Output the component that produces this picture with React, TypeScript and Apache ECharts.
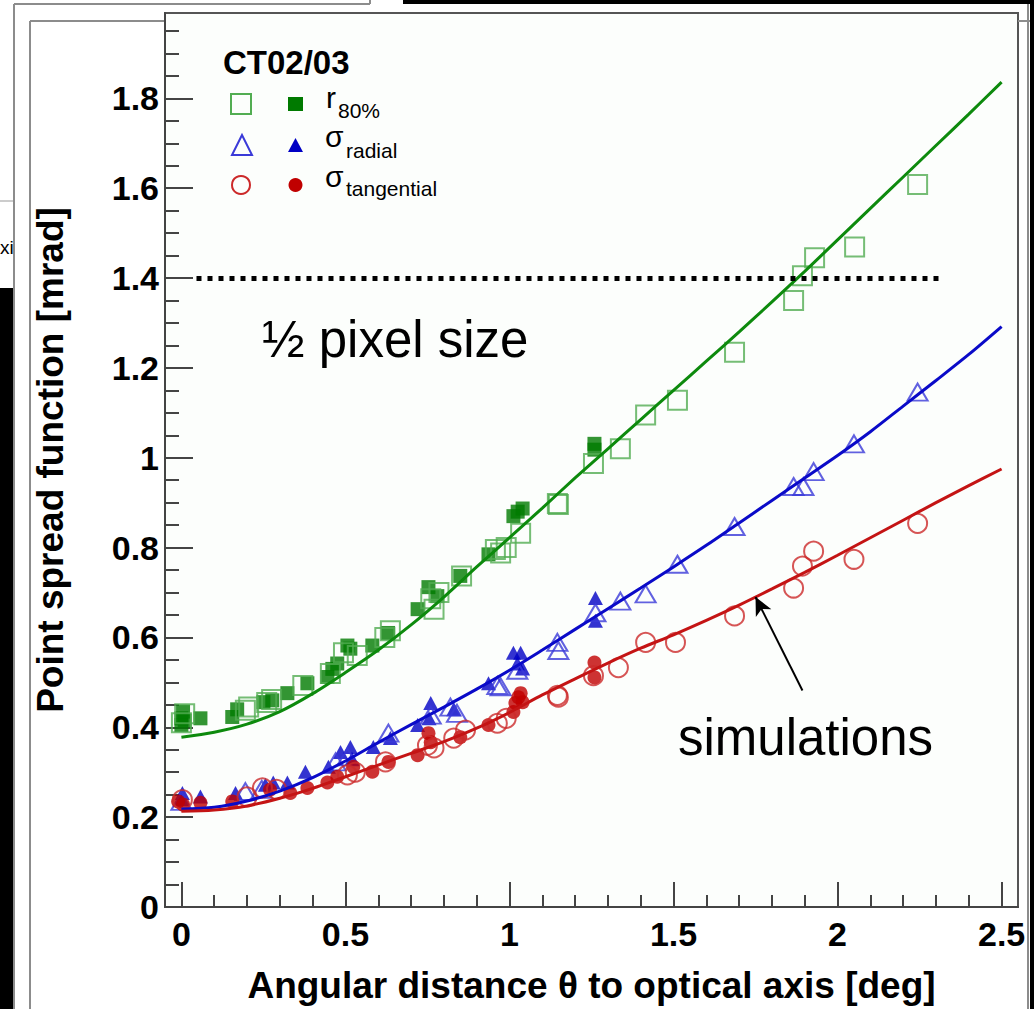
import React, { useEffect, useRef } from "react";
import * as echarts from "echarts";

const FONT = '"Liberation Sans", Arial, Helvetica, sans-serif';

// ---- data ----
const xMajor = [0, 0.5, 1, 1.5, 2, 2.5];
const xMinor = [0.1, 0.2, 0.3, 0.4, 0.6, 0.7, 0.8, 0.9, 1.1, 1.2, 1.3, 1.4, 1.6, 1.7, 1.8, 1.9, 2.1, 2.2, 2.3, 2.4];
const yMajor = [0, 0.2, 0.4, 0.6, 0.8, 1, 1.2, 1.4, 1.6, 1.8];
const yMinor = [0.05, 0.1, 0.15, 0.25, 0.3, 0.35, 0.45, 0.5, 0.55, 0.65, 0.7, 0.75, 0.85, 0.9, 0.95, 1.05, 1.1, 1.15, 1.25, 1.3, 1.35, 1.45, 1.5, 1.55, 1.65, 1.7, 1.75, 1.85, 1.9, 1.95];

const r80Filled = [
  [0.0, 0.405], [0.0, 0.42], [0.005, 0.435], [0.01, 0.415], [0.058, 0.42], [0.155, 0.423], [0.17, 0.44],
  [0.25, 0.456], [0.277, 0.46], [0.323, 0.476], [0.384, 0.498], [0.445, 0.512], [0.46, 0.53], [0.475, 0.542],
  [0.506, 0.582], [0.515, 0.575], [0.582, 0.582], [0.63, 0.61], [0.72, 0.663], [0.753, 0.712], [0.78, 0.692],
  [0.85, 0.737], [0.936, 0.785], [1.012, 0.87], [1.025, 0.88], [1.04, 0.887], [1.259, 1.031], [1.259, 1.018],
];
const r80Open = [
  [0.0, 0.41], [0.01, 0.43], [0.195, 0.438], [0.205, 0.445], [0.26, 0.455], [0.275, 0.462], [0.37, 0.493],
  [0.454, 0.52], [0.494, 0.566], [0.536, 0.56], [0.62, 0.6], [0.637, 0.615], [0.76, 0.686], [0.77, 0.663],
  [0.785, 0.7], [0.854, 0.737], [0.957, 0.796], [0.973, 0.788], [0.99, 0.8], [1.034, 0.832], [1.146, 0.898],
  [1.149, 0.896], [1.256, 0.987], [1.338, 1.02], [1.415, 1.095], [1.512, 1.128], [1.686, 1.235], [1.866, 1.35],
  [1.893, 1.405], [1.93, 1.445], [2.052, 1.469], [2.244, 1.608],
];
const radialFilled = [
  [0.003, 0.254], [0.0, 0.24], [0.058, 0.246], [0.165, 0.254], [0.256, 0.272], [0.28, 0.277], [0.323, 0.277],
  [0.378, 0.301], [0.448, 0.312], [0.485, 0.345], [0.515, 0.356], [0.52, 0.33], [0.585, 0.356], [0.637, 0.376],
  [0.72, 0.405], [0.76, 0.454], [0.755, 0.42], [0.83, 0.44], [0.936, 0.498], [1.012, 0.566], [1.034, 0.566],
  [1.024, 0.542], [1.04, 0.531], [1.262, 0.688], [1.262, 0.637],
];
const radialOpen = [
  [0.0, 0.235], [0.195, 0.257], [0.245, 0.262], [0.47, 0.323], [0.506, 0.334], [0.631, 0.387], [0.76, 0.427],
  [0.82, 0.445], [0.84, 0.431], [0.963, 0.493], [0.973, 0.49], [1.024, 0.527], [1.146, 0.589], [1.149, 0.571],
  [1.262, 0.655], [1.338, 0.681], [1.415, 0.697], [1.512, 0.763], [1.686, 0.847], [1.866, 0.936], [1.896, 0.936],
  [1.927, 0.969], [2.05, 1.031], [2.244, 1.146],
];
const tangFilled = [
  [-0.01, 0.235], [0.005, 0.228], [0.058, 0.232], [0.155, 0.235], [0.27, 0.261], [0.332, 0.254], [0.384, 0.265],
  [0.445, 0.277], [0.475, 0.29], [0.524, 0.312], [0.582, 0.301], [0.631, 0.323], [0.72, 0.338], [0.753, 0.387],
  [0.76, 0.367], [0.85, 0.378], [0.936, 0.405], [1.012, 0.434], [1.018, 0.454], [1.027, 0.467], [1.034, 0.476],
  [1.04, 0.456], [1.259, 0.544], [1.259, 0.511],
];
const tangOpen = [
  [0.003, 0.239], [0.2, 0.245], [0.247, 0.265], [0.29, 0.262], [0.506, 0.294], [0.53, 0.3], [0.622, 0.323],
  [0.75, 0.36], [0.77, 0.354], [0.83, 0.376], [0.866, 0.394], [0.963, 0.409], [0.99, 0.42], [1.146, 0.471],
  [1.149, 0.467], [1.256, 0.515], [1.332, 0.533], [1.415, 0.589], [1.506, 0.589], [1.686, 0.648], [1.866, 0.71],
  [1.893, 0.759], [1.927, 0.792], [2.05, 0.774], [2.244, 0.854],
];

const simX = [0, 0.1, 0.2, 0.3, 0.4, 0.5, 0.6, 0.7, 0.8, 0.9, 1.0, 1.1, 1.2, 1.3, 1.4, 1.5, 1.6, 1.7, 1.8, 1.9, 2.0, 2.1, 2.2, 2.3, 2.4, 2.5];
const simR80 = [0.378, 0.389, 0.407, 0.435, 0.475, 0.522, 0.572, 0.628, 0.69, 0.757, 0.822, 0.888, 0.955, 1.02, 1.085, 1.15, 1.215, 1.28, 1.347, 1.415, 1.485, 1.555, 1.625, 1.695, 1.765, 1.836];
const simRadial = [0.218, 0.222, 0.236, 0.258, 0.288, 0.325, 0.366, 0.406, 0.445, 0.485, 0.527, 0.572, 0.618, 0.664, 0.71, 0.757, 0.805, 0.855, 0.905, 0.955, 1.005, 1.058, 1.115, 1.172, 1.23, 1.292];
const simTang = [0.213, 0.216, 0.225, 0.242, 0.264, 0.29, 0.316, 0.342, 0.368, 0.398, 0.433, 0.472, 0.508, 0.543, 0.576, 0.606, 0.638, 0.672, 0.708, 0.745, 0.783, 0.822, 0.861, 0.9, 0.938, 0.975];

const halfPixelLevel = 1.4;
const halfPixelRange = [0.046, 2.314];
const arrowFrom = [1.893, 0.482];
const arrowTo = [1.75, 0.69];

// ---- colors ----
const GREEN_F = "#007a00";
const GREEN_O = "#52ad52";
const GREEN_L = "#0d8a0d";
const BLUE_F = "#0000c4";
const BLUE_O = "#3a3ad8";
const BLUE_L = "#0a0ac8";
const RED_F = "#c00000";
const RED_O = "#cc2a2a";
const RED_L = "#c41414";
const FRAME = "#8c8c8c";
const AXIS = "#444";

function pair(xs: number[], ys: number[]) {
  return xs.map((x, i) => [x, ys[i]]);
}

export default function App() {
  const ref = useRef<HTMLDivElement>(null);

  useEffect(() => {
    if (!ref.current) return;
    const chart = echarts.init(ref.current, undefined, { renderer: "svg" });

    const axisLineStyle = { color: AXIS, width: 2 };
    const labelStyle = { color: "#000", fontSize: 34, fontWeight: "bold" as const, fontFamily: FONT };

    const openItem = (c: string) => ({ color: "rgba(0,0,0,0)", borderColor: c, borderWidth: 2 });

    const scatterBase = { type: "scatter" as const, silent: true, emphasis: { disabled: true } };

    const seg = (x1: number, y1: number, x2: number, y2: number, stroke = FRAME, w = 2) => ({
      type: "line",
      silent: true,
      shape: { x1, y1, x2, y2 },
      style: { stroke, lineWidth: w },
    });
    const txt = (x: number, y: number, text: string, size: number, opts: any = {}) => ({
      type: "text",
      silent: true,
      x,
      y,
      style: {
        text,
        fontSize: size,
        fontFamily: FONT,
        fontWeight: opts.bold ? "bold" : "normal",
        fill: "#000",
        align: opts.align || "left",
        verticalAlign: "middle",
      },
    });

    chart.setOption({
      animation: false,
      backgroundColor: "#ffffff",
      grid: {
        left: 165,
        top: 13,
        right: 16,
        bottom: 96,
        show: true,
        backgroundColor: "#fcfefc",
        borderColor: "#555",
        borderWidth: 2,
        containLabel: false,
      },
      xAxis: [
        {
          type: "value",
          min: -0.05,
          max: 2.55,
          position: "bottom",
          axisLine: { show: true, onZero: false, lineStyle: axisLineStyle },
          axisTick: { show: true, inside: true, length: 25, customValues: xMajor, lineStyle: axisLineStyle },
          axisLabel: { ...labelStyle, margin: 10, customValues: xMajor },
          splitLine: { show: false },
          name: "Angular distance θ to optical axis [deg]",
          nameLocation: "middle",
          nameGap: 60,
          nameTextStyle: { color: "#000", fontSize: 37, fontWeight: "bold", fontFamily: FONT },
        },
        {
          type: "value",
          min: -0.05,
          max: 2.55,
          position: "bottom",
          offset: 0,
          axisLine: { show: false, onZero: false },
          axisTick: { show: true, inside: true, length: 12, customValues: xMinor, lineStyle: axisLineStyle },
          axisLabel: { show: false },
          splitLine: { show: false },
        },
      ],
      yAxis: [
        {
          type: "value",
          min: 0,
          max: 1.99,
          position: "left",
          axisLine: { show: true, onZero: false, lineStyle: axisLineStyle },
          axisTick: { show: true, inside: true, length: 28, customValues: yMajor, lineStyle: axisLineStyle },
          axisLabel: { ...labelStyle, margin: 6, customValues: yMajor },
          splitLine: { show: false },
          name: "Point spread function [mrad]",
          nameLocation: "middle",
          nameRotate: 90,
          nameGap: 96,
          nameTextStyle: { color: "#000", fontSize: 37, fontWeight: "bold", fontFamily: FONT },
        },
        {
          type: "value",
          min: 0,
          max: 1.99,
          position: "left",
          offset: 0,
          axisLine: { show: false, onZero: false },
          axisTick: { show: true, inside: true, length: 14, customValues: yMinor, lineStyle: axisLineStyle },
          axisLabel: { show: false },
          splitLine: { show: false },
        },
      ],
      series: [
        { ...scatterBase, name: "r80 CT03", data: r80Filled, symbol: "rect", symbolSize: 14, itemStyle: { color: GREEN_F } },
        { ...scatterBase, name: "r80 CT02", data: r80Open, symbol: "rect", symbolSize: 19, itemStyle: openItem(GREEN_O) },
        { ...scatterBase, name: "radial CT03", data: radialFilled, symbol: "triangle", symbolSize: [15, 14], itemStyle: { color: BLUE_F } },
        { ...scatterBase, name: "radial CT02", data: radialOpen, symbol: "triangle", symbolSize: [20, 17], itemStyle: openItem(BLUE_O) },
        { ...scatterBase, name: "tang CT03", data: tangFilled, symbol: "circle", symbolSize: 14, itemStyle: { color: RED_F } },
        { ...scatterBase, name: "tang CT02", data: tangOpen, symbol: "circle", symbolSize: 19, itemStyle: openItem(RED_O) },
        {
          type: "line", name: "sim r80", data: pair(simX, simR80), smooth: 0.3, symbol: "none", silent: true,
          lineStyle: { color: GREEN_L, width: 3 },
        },
        {
          type: "line", name: "sim radial", data: pair(simX, simRadial), smooth: 0.3, symbol: "none", silent: true,
          lineStyle: { color: BLUE_L, width: 3 },
        },
        {
          type: "line", name: "sim tangential", data: pair(simX, simTang), smooth: 0.3, symbol: "none", silent: true,
          lineStyle: { color: RED_L, width: 3 },
          markLine: {
            silent: true,
            animation: false,
            label: { show: false },
            emphasis: { disabled: true },
            data: [
              [
                { coord: [halfPixelRange[0], halfPixelLevel], symbol: "none", lineStyle: { type: [5, 6], width: 5, color: "#000", cap: "butt" } },
                { coord: [halfPixelRange[1], halfPixelLevel], symbol: "none" },
              ],
              [
                { coord: arrowFrom, symbol: "none", lineStyle: { type: "solid", width: 2, color: "#000" } },
                { coord: arrowTo, symbol: "arrow", symbolSize: [13, 18] },
              ],
            ],
          },
        },
      ],
      graphic: [
        // surrounding window frames
        { type: "rect", silent: true, shape: { x: 0, y: 288, width: 14, height: 721 }, style: { fill: "#000" } },
        { type: "rect", silent: true, shape: { x: 403, y: 0, width: 631, height: 4 }, style: { fill: "#000" } },
        { type: "rect", silent: true, shape: { x: 1030, y: 0, width: 4, height: 1009 }, style: { fill: "#000" } },
        seg(0, 201, 14, 201, "#999", 1),
        txt(0, 247, "xi", 19),
        seg(14, 4, 14, 1009),
        seg(14, 4, 370, 4),
        seg(370, 0, 370, 4),
        seg(1028, 4, 1028, 1009),
        seg(30, 21, 30, 1009),
        seg(30, 21, 165, 21),
        seg(1018, 21, 1030, 21),
        // legend
        txt(223, 62, "CT02/03", 33, { bold: true }),
        { type: "rect", silent: true, shape: { x: 231, y: 94, width: 20, height: 20 }, style: { fill: "none", stroke: GREEN_O, lineWidth: 2 } },
        { type: "rect", silent: true, shape: { x: 288, y: 97, width: 15, height: 14 }, style: { fill: GREEN_F } },
        txt(326, 97, "r", 30),
        txt(338, 110, "80%", 21),
        { type: "polygon", silent: true, shape: { points: [[242, 135], [232, 155], [252, 155]] }, style: { fill: "none", stroke: BLUE_O, lineWidth: 2 } },
        { type: "polygon", silent: true, shape: { points: [[295.5, 138], [288, 152], [303, 152]] }, style: { fill: BLUE_F } },
        txt(325, 136, "σ", 30),
        txt(346, 150, "radial", 21),
        { type: "circle", silent: true, shape: { cx: 241, cy: 185, r: 9 }, style: { fill: "none", stroke: RED_O, lineWidth: 2 } },
        { type: "circle", silent: true, shape: { cx: 295.5, cy: 185, r: 7 }, style: { fill: RED_F } },
        txt(325, 176, "σ", 30),
        txt(346, 188, "tangential", 21),
        // annotations
        txt(262, 339, "½ pixel size", 51),
        txt(678, 737, "simulations", 51),
      ],
    });

    return () => chart.dispose();
  }, []);

  return (
    <div
      ref={ref}
      style={{ position: "fixed", left: 0, top: 0, width: 1034, height: 1009, background: "#fff" }}
    />
  );
}
